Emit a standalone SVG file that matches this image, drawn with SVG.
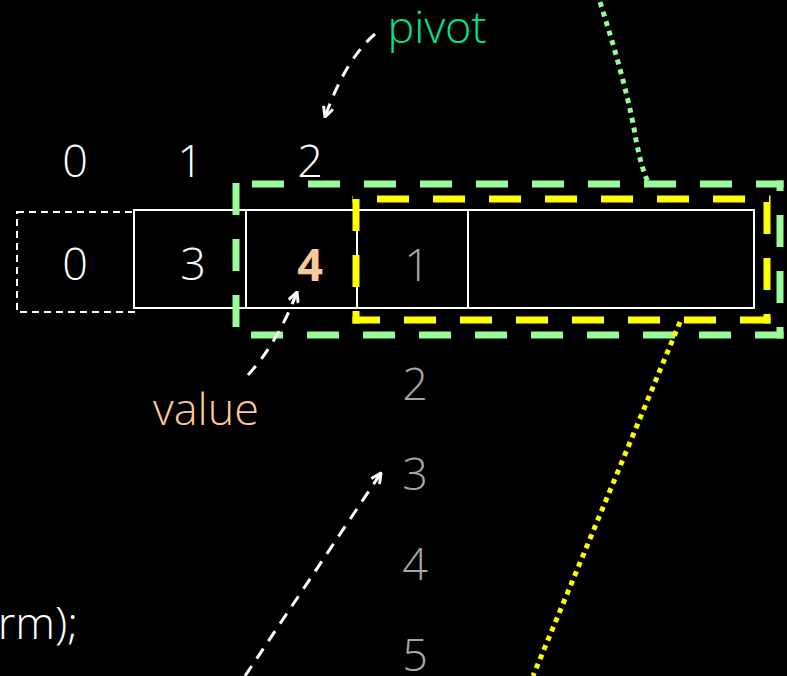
<svg xmlns="http://www.w3.org/2000/svg" width="787" height="676" viewBox="0 0 787 676">
<style>
text{font-family:"Open Sans","Noto Sans","Liberation Sans",sans-serif;font-weight:300;font-size:45px;text-anchor:middle}
.w{fill:#ffffff}.g{fill:#a6a6a6}.o{fill:#f9c99b}
.cell{fill:none;stroke:#ffffff;stroke-width:2}
.arr{fill:none;stroke:#ffffff;stroke-width:3;stroke-dasharray:12 9}
.gd{fill:none;stroke:#98fb98;stroke-width:7;stroke-dasharray:32 24}
.yd{fill:none;stroke:#ffff00;stroke-width:7;stroke-dasharray:32 24}
</style>
<defs>
<marker id="ah" viewBox="0 0 12 12" refX="11" refY="6" markerWidth="12" markerHeight="12" markerUnits="userSpaceOnUse" orient="auto">
<path d="M1,1 L11,6 L1,11" fill="none" stroke="#ffffff" stroke-width="3"/>
</marker>
</defs>
<rect width="787" height="676" fill="#000000"/>
<g id="indices">
<text class="w" x="75" y="177">0</text>
<text class="w" x="190" y="177">1</text>
<text class="w" x="310" y="177">2</text>
</g>
<g id="cell-prev">
<rect x="17" y="212" width="117" height="100" fill="none" stroke="#ffffff" stroke-width="2" stroke-dasharray="7 5"/>
<text class="w" x="75" y="280">0</text>
</g>
<g id="cell-0">
<rect class="cell" x="134" y="210" width="112" height="98"/>
<text class="w" x="193" y="280">3</text>
</g>
<g id="cell-1">
<rect class="cell" x="246" y="210" width="111" height="98"/>
<text class="o" x="310" y="281" style="font-weight:700">4</text>
</g>
<g id="cell-2">
<rect class="cell" x="357" y="210" width="111" height="98"/>
<text class="g" x="417" y="281">1</text>
</g>
<g id="cell-3">
<rect class="cell" x="468" y="210" width="286" height="98"/>
</g>
<g id="range-yellow">
<path class="yd" d="M352.5,199 H770.5" stroke-dashoffset="31.5"/>
<path class="yd" d="M352.5,320 H770.5" stroke-dashoffset="4.5"/>
<path class="yd" d="M356,195.5 V323.5" stroke-dashoffset="52.5"/>
<path class="yd" d="M767,195.5 V323.5" stroke-dashoffset="49.5"/>
</g>
<g id="range-green">
<path class="gd" d="M232.5,184 H783.5" stroke-dashoffset="36.5"/>
<path class="gd" d="M232.5,335 H783.5" stroke-dashoffset="37.5"/>
<path class="gd" d="M236,180.5 V338.5" stroke-dashoffset="53.5"/>
<path class="gd" d="M780,180.5 V338.5" stroke-dashoffset="21.5"/>
</g>
<g id="column">
<text class="g" x="415" y="400">2</text>
<text class="g" x="415" y="490">3</text>
<text class="g" x="415" y="580">4</text>
<text class="g" x="415" y="671">5</text>
</g>
<g id="labels">
<text x="437" y="43" style="fill:#00e58c">pivot</text>
<text class="o" x="206" y="425">value</text>
<text class="w" x="78" y="639" style="text-anchor:end">rm);</text>
</g>
<g id="connectors">
<path class="arr" d="M375,34 Q345,60 325,117" marker-end="url(#ah)"/>
<path class="arr" d="M248,375 Q278,342 297,292" marker-end="url(#ah)"/>
<path class="arr" d="M245,676 L381,473" marker-end="url(#ah)"/>
<path d="M600,2 Q628,90 636,140 Q642,170 648,182" fill="none" stroke="#98fb98" stroke-width="5" stroke-dasharray="5 5"/>
<path d="M680,322 L533,676" fill="none" stroke="#ffff00" stroke-width="5" stroke-dasharray="5 5"/>
</g>
</svg>
